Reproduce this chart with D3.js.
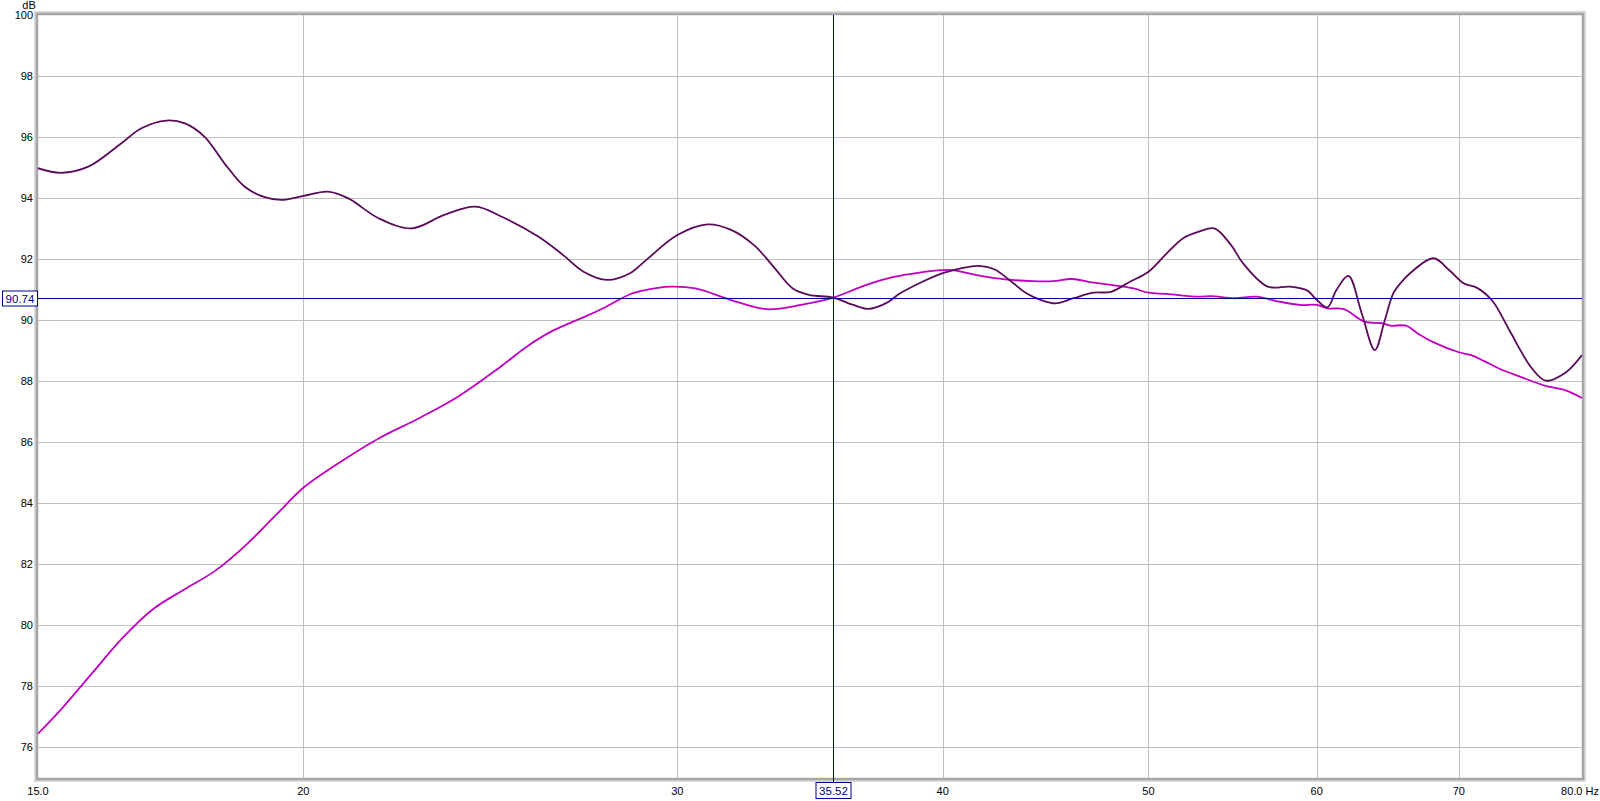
<!DOCTYPE html>
<html><head><meta charset="utf-8">
<script src="https://cdn.jsdelivr.net/npm/d3@7"></script>
<style>html,body{margin:0;padding:0;background:#fff;overflow:hidden}svg{display:block}</style>
</head><body>
<script>
const darkFreq = [15.0,15.38,15.84,16.42,16.78,17.24,17.59,17.97,18.36,18.77,19.18,19.53,20.0,20.54,21.0,21.7,22.5,23.3,24.1,24.8,25.8,26.5,27.1,27.8,28.5,29.0,30.0,31.0,31.8,32.6,33.3,34.0,34.6,35.52,36.3,36.9,37.6,38.2,39.0,40.0,40.8,41.6,42.3,43.0,43.8,44.5,45.2,46.1,47.1,48.0,49.0,50.0,51.0,51.9,52.8,53.7,54.7,55.4,56.9,58.3,59.4,59.9,60.7,61.3,62.1,63.0,63.9,64.6,65.2,65.8,66.4,68.1,69.3,70.4,71.4,72.6,74.0,75.7,76.9,78.6,80.0];
const darkDb   = [94.98,94.83,95.03,95.8,96.29,96.54,96.45,96.01,95.14,94.37,94.03,93.94,94.07,94.21,93.99,93.34,93.01,93.45,93.72,93.39,92.74,92.14,91.59,91.32,91.54,91.97,92.79,93.14,92.96,92.46,91.75,91.04,90.83,90.74,90.5,90.37,90.55,90.88,91.21,91.54,91.70,91.78,91.67,91.32,90.88,90.66,90.55,90.72,90.9,90.93,91.26,91.59,92.19,92.68,92.9,93.01,92.45,91.86,91.1,91.1,90.97,90.72,90.42,90.99,91.45,90.23,89.02,90.0,90.88,91.26,91.54,92.03,91.63,91.2,91.06,90.63,89.63,88.46,88.02,88.29,88.86];
const magFreq = [15.0,15.38,15.9,16.44,16.99,17.57,18.16,18.77,19.41,20.0,20.74,21.68,22.66,23.68,24.75,25.5,26.2,27.0,27.7,28.5,29.0,29.76,30.6,31.8,33.05,34.3,35.52,36.8,37.9,39.0,40.0,40.4,41.5,42.8,44.1,45.1,46.0,47.1,48.1,49.2,50.0,51.0,52.8,53.5,54.9,56.2,57.6,58.9,60.0,60.7,61.8,63.2,64.4,65.0,66.1,67.0,68.0,70.0,71.0,72.0,73.2,74.8,76.9,78.6,80.0];
const magDb   = [76.45,77.25,78.42,79.59,80.53,81.17,81.77,82.6,83.61,84.51,85.28,86.11,86.78,87.52,88.46,89.15,89.65,90.05,90.4,90.85,90.99,91.1,91.04,90.66,90.36,90.5,90.74,91.15,91.41,91.56,91.64,91.64,91.48,91.34,91.28,91.28,91.35,91.23,91.15,91.04,90.9,90.86,90.77,90.79,90.72,90.77,90.61,90.5,90.5,90.39,90.36,89.95,89.9,89.82,89.82,89.55,89.3,88.95,88.85,88.65,88.4,88.15,87.85,87.7,87.45];
const yTickValues = [76,78,80,82,84,86,88,90,92,94,96,98,100];
const xGridValues = [20,30,40,50,60,70];
const xTickLabels = [["15.0",15],["20",20],["30",30],["40",40],["50",50],["60",60],["70",70]];
const cursorFreq = 35.52, cursorDb = 90.74;

const W = 1600, H = 801;
const svg = d3.select("body").append("svg").attr("width", W).attr("height", H);
const x = d3.scaleLog().domain([15, 80]).range([38, 1582]);
const y = d3.scaleLinear().domain([75, 100]).range([778, 15]);
const font = "'Liberation Sans', Arial, sans-serif";

svg.append("defs").append("clipPath").attr("id","clip")
  .append("rect").attr("x",38).attr("y",15).attr("width",1544).attr("height",763);

// grid
svg.append("g").selectAll("line").data(yTickValues.filter(d=>d<100)).join("line")
  .attr("x1",38).attr("x2",1582).attr("y1",d=>Math.round(y(d))+0.5).attr("y2",d=>Math.round(y(d))+0.5)
  .attr("stroke","#c0c0c0").attr("stroke-width",1);
svg.append("g").selectAll("line").data(xGridValues).join("line")
  .attr("y1",15).attr("y2",778).attr("x1",d=>Math.round(x(d))+0.5).attr("x2",d=>Math.round(x(d))+0.5)
  .attr("stroke","#c0c0c0").attr("stroke-width",1);

// frame
svg.append("rect").attr("x",36).attr("y",13).attr("width",1548).attr("height",767)
  .attr("fill","none").attr("stroke","#d8d8d8").attr("stroke-width",4);
svg.append("rect").attr("x",37).attr("y",14).attr("width",1546).attr("height",765)
  .attr("fill","none").attr("stroke","#a6a6a6").attr("stroke-width",2.5);

// y labels
svg.append("g").selectAll("text").data(yTickValues).join("text")
  .attr("x",33).attr("y",d=>y(d)+4).attr("text-anchor","end")
  .attr("font-family",font).attr("font-size",11).attr("fill","#000").text(d=>d);
svg.append("text").attr("x",29).attr("y",9).attr("text-anchor","middle")
  .attr("font-family",font).attr("font-size",11).attr("fill","#000").text("dB");

// x labels
svg.append("g").selectAll("text").data(xTickLabels).join("text")
  .attr("x",d=>x(d[1])).attr("y",795).attr("text-anchor","middle")
  .attr("font-family",font).attr("font-size",11).attr("fill","#000").text(d=>d[0]);
svg.append("text").attr("x",1599).attr("y",795).attr("text-anchor","end")
  .attr("font-family",font).attr("font-size",11).attr("fill","#000").text("80.0 Hz");

// curves
const line = d3.line().curve(d3.curveCatmullRom.alpha(0.5));
const g = svg.append("g").attr("clip-path","url(#clip)");
g.append("path").attr("d", line(magFreq.map((f,i)=>[x(f), y(magDb[i])])))
  .attr("fill","none").attr("stroke","#c000c0").attr("stroke-width",1.8);
g.append("path").attr("d", line(darkFreq.map((f,i)=>[x(f), y(darkDb[i])])))
  .attr("fill","none").attr("stroke","#5a0a5a").attr("stroke-width",1.8);

// cursor
const cx = Math.round(x(cursorFreq))+0.5, cy = Math.round(y(cursorDb))+0.5;
svg.append("line").attr("x1",cx).attr("x2",cx).attr("y1",15).attr("y2",782).attr("stroke","#00008b").attr("stroke-width",1);
svg.append("line").attr("x1",38).attr("x2",1582).attr("y1",cy).attr("y2",cy).attr("stroke","#00008b").attr("stroke-width",1);
svg.append("rect").attr("x",cx-17.5).attr("y",782.5).attr("width",35).attr("height",16)
  .attr("fill","#fff").attr("stroke","#00008b").attr("stroke-width",1);
svg.append("text").attr("x",cx).attr("y",795).attr("text-anchor","middle")
  .attr("font-family",font).attr("font-size",11.5).attr("fill","#00008b").text(cursorFreq.toFixed(2));
svg.append("rect").attr("x",2.5).attr("y",cy-7.5).attr("width",35).attr("height",15)
  .attr("fill","#fff").attr("stroke","#00008b").attr("stroke-width",1);
svg.append("text").attr("x",20).attr("y",cy+4.5).attr("text-anchor","middle")
  .attr("font-family",font).attr("font-size",11.5).attr("fill","#00008b").text(cursorDb.toFixed(2));
</script>
</body></html>
